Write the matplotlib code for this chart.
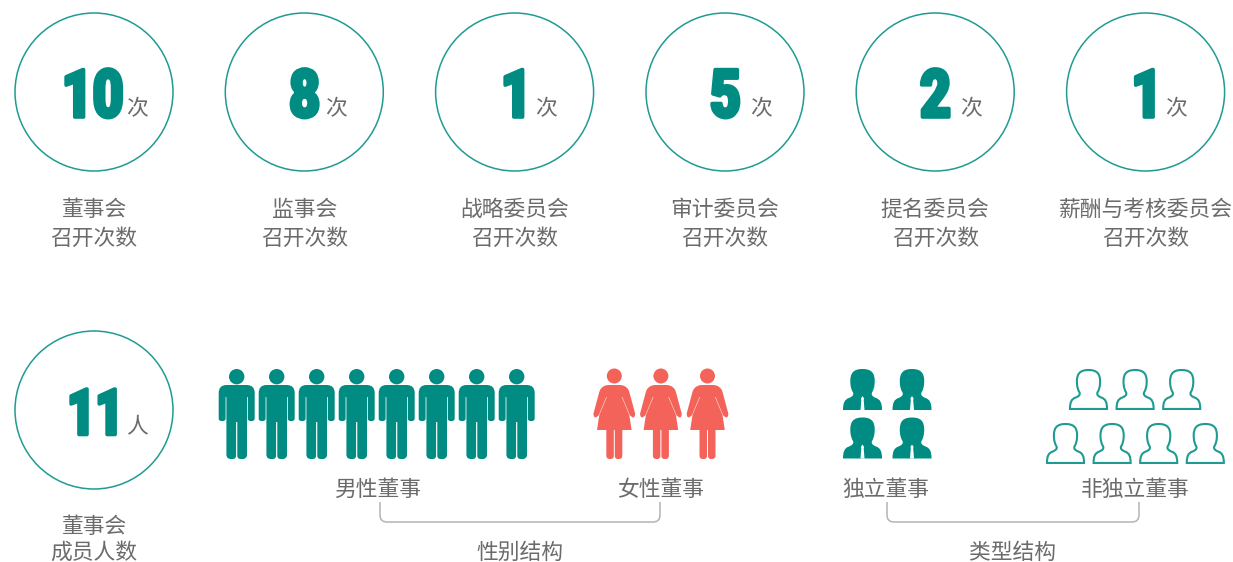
import matplotlib
matplotlib.use('Agg')
import matplotlib.pyplot as plt
import matplotlib.patheffects as pe
from matplotlib.path import Path
from matplotlib.patches import PathPatch, Circle
from matplotlib.transforms import Affine2D

plt.rcParams['font.family'] = ['Noto Sans CJK SC', 'DejaVu Sans']

#--------------------Data--------------------------
meeting_counts = ['10', '8', '1', '5', '2', '1']
meeting_names = ['董事会', '监事会', '战略委员会', '审计委员会', '提名委员会', '薪酬与考核委员会']
meeting_sub = '召开次数'
meeting_unit = '次'

member_count = '11'
member_unit = '人'
member_lines = ['董事会', '成员人数']

n_male = 8
n_female = 3
n_independent = 4
n_non_independent = 7

#--------------------Style--------------------------
TEAL = '#008c82'
RING = '#1f9b92'
RED = '#f4635a'
GREY = '#6b6b6b'
BRACKET = '#b4b4b4'
TEXT_SIZE = 15.7
circle_x = [94, 304.3, 514.6, 725, 935.2, 1145.6]
number_right = [124, 320.5, 534, 741.5, 951.5, 1164.5]
unit_dx = [43, 32, 31, 36, 36, 30]


class Squeeze(pe.AbstractPathEffect):
    # narrows a text towards its right end, there is no condensed heavy font here
    def __init__(self, sx, stroke):
        super().__init__()
        self.sx = sx
        self.stroke = stroke

    def draw_path(self, renderer, gc, tpath, affine, rgbFace=None):
        right = tpath.get_extents(affine).x1
        squeezed = affine + Affine2D().translate(-right, 0).scale(self.sx, 1).translate(right, 0)
        gc0 = renderer.new_gc()
        gc0.copy_properties(gc)
        gc0.set_linewidth(self.stroke)
        gc0.set_foreground(rgbFace)
        renderer.draw_path(gc0, tpath, squeezed, rgbFace)
        gc0.restore()


def rounded_poly(points, closed=True):
    # points are (x, y, corner radius), corners get a quadratic curve
    verts, codes = [], []
    n = len(points)
    for i in range(n):
        x, y, r = points[i]
        px, py, _ = points[i - 1]
        nx, ny, _ = points[(i + 1) % n]
        if r == 0 or (not closed and i in (0, n - 1)):
            verts.append((x, y))
            codes.append(Path.LINETO if verts[:-1] else Path.MOVETO)
            continue
        d0 = ((px - x) ** 2 + (py - y) ** 2) ** 0.5
        d1 = ((nx - x) ** 2 + (ny - y) ** 2) ** 0.5
        verts.append((x + (px - x) * r / d0, y + (py - y) * r / d0))
        codes.append(Path.LINETO if verts[:-1] else Path.MOVETO)
        verts += [(x, y), (x + (nx - x) * r / d1, y + (ny - y) * r / d1)]
        codes += [Path.CURVE3, Path.CURVE3]
    if closed:
        verts.append(verts[0])
        codes.append(Path.CLOSEPOLY)
    return Path(verts, codes)


def mirrored(half):
    # half goes top to bottom on the right side
    return half + [(-x, y, r) for x, y, r in reversed(half)]


MAN = rounded_poly(mirrored([(0.8, 16, 0), (18, 16, 8), (18, 52, 2.5), (11.1, 52, 2.5),
                             (11.1, 28, 0.3), (10.3, 28, 0.3), (10.3, 90, 4.5), (0.6, 90, 3.5), (0.6, 53, 0)]))
WOMAN = rounded_poly(mirrored([(0.8, 16, 0), (10.5, 16, 5), (14.5, 21, 2), (21.2, 46, 2), (19.2, 49, 1.5),
                               (15.7, 46.5, 0.5), (8.0, 28, 0.2), (7.5, 28, 0.2), (15.0, 46, 0),
                               (17.3, 61, 0), (8, 61, 0), (8, 90, 3.5), (0.5, 90, 3), (0.5, 61, 0)]))

C = Path.CURVE4
BUST = Path([(0, 0),
             (9, 0), (12.2, 4), (12.2, 12),
             (12.2, 18), (11, 21), (9.5, 23.5),
             (8.5, 26), (10, 27.5), (13.5, 29),
             (18, 30.5), (19.5, 34), (19.5, 41),
             (-19.5, 41),
             (-19.5, 34), (-18, 30.5), (-13.5, 29),
             (-10, 27.5), (-8.5, 26), (-9.5, 23.5),
             (-11, 21), (-12.2, 18), (-12.2, 12),
             (-12.2, 4), (-9, 0), (0, 0), (0, 0)],
            [Path.MOVETO, C, C, C, C, C, C, C, C, C, C, C, C, Path.LINETO,
             C, C, C, C, C, C, C, C, C, C, C, C, Path.CLOSEPOLY])
TIE = Path([(0, 27), (1.6, 29.5), (1.2, 31), (2, 41), (-2, 41), (-1.2, 31), (-1.6, 29.5), (0, 27)], closed=True)

#--------------------Drawing--------------------------
fig = plt.figure(figsize=(12.33, 5.62), dpi=100)
ax = fig.add_axes([0, 0, 1, 1])
ax.set_xlim(0, 1233)
ax.set_ylim(562, 0)
ax.axis('off')


def label(x, y, s):
    ax.text(x, y, s, color=GREY, fontsize=TEXT_SIZE, ha='center', va='center')


def number(x, y, s, size, sx):
    ax.text(x, y, s, color=TEAL, fontsize=size, family='Roboto', weight='black',
            ha='right', va='center_baseline',
            path_effects=[Squeeze(sx, 2.6)])


def ring(x, y):
    ax.add_patch(Circle((x, y), 79, fill=False, edgecolor=RING, linewidth=1.1))


def place(path, x, y, scale=1, **kw):
    tr = Affine2D().scale(scale).translate(x, y) + ax.transData
    ax.add_patch(PathPatch(path, transform=tr, **kw))


def bracket(x0, x1, y0=502, y1=522):
    path = rounded_poly([(x0, y0, 0), (x0, y1, 7), (x1, y1, 7), (x1, y0, 0)], closed=False)
    ax.add_patch(PathPatch(path, fill=False, edgecolor=BRACKET, linewidth=1.1))


for i in range(len(meeting_counts)):
    x = circle_x[i]
    ring(x, 92)
    number(number_right[i], 92, meeting_counts[i], 48, 0.8)
    label(x + unit_dx[i], 109.5, meeting_unit)
    label(x, 210, meeting_names[i])
    label(x, 238.5, meeting_sub)

ring(94, 410)
number(126, 410, member_count, 46, 0.76)
label(137, 426.5, member_unit)
label(94, 527, member_lines[0])
label(94, 553, member_lines[1])

for i in range(n_male):
    x = 236.7 + 40 * i
    ax.add_patch(Circle((x, 376.7), 7.7, color=TEAL, lw=0))
    place(MAN, x, 369, facecolor=TEAL, edgecolor='none')

for i in range(n_female):
    x = 614.3 + 46.6 * i
    ax.add_patch(Circle((x, 376), 7.5, color=RED, lw=0))
    place(WOMAN, x, 369, facecolor=RED, edgecolor='none')

for i in range(n_independent):
    x = 862.5 + 49.5 * (i % 2)
    y = 369 + 48.5 * (i // 2)
    place(BUST, x, y, 1, facecolor=TEAL, edgecolor='none')
    place(TIE, x, y, 1, facecolor='white', edgecolor='none')

top_row = n_non_independent // 2
for i in range(n_non_independent):
    if i < top_row:
        x, y = 1088.5 + 46.6 * i, 370
    else:
        x, y = 1065.5 + 46.6 * (i - top_row), 424
    place(BUST, x, y, 0.95, facecolor='white', edgecolor=RING, linewidth=1.5)

label(378, 490, '男性董事')
label(661, 490, '女性董事')
label(886, 490, '独立董事')
label(1135, 490, '非独立董事')
bracket(380, 660)
bracket(887, 1139)
label(520, 553, '性别结构')
label(1012, 553, '类型结构')

fig.savefig('out.png', dpi=100, facecolor='white')
